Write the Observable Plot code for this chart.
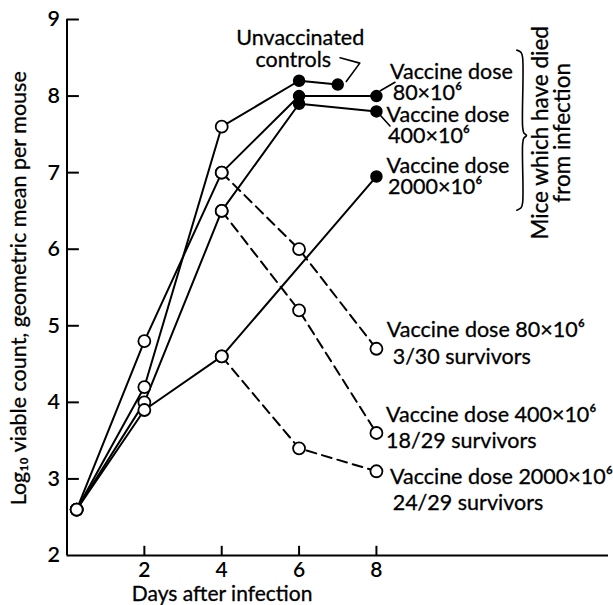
<!DOCTYPE html>
<html><head><meta charset="utf-8">
<script src="https://cdn.jsdelivr.net/npm/d3@7"></script>
<script src="https://cdn.jsdelivr.net/npm/@observablehq/plot@0.6"></script>
<style>body{margin:0;background:#fff}</style>
</head><body><div id="chart"></div>
<script>
// ---- data ----
const controlsDays = [0.25, 2, 4, 6, 7];
const controlsVals = [2.6, 4.2, 7.6, 8.2, 8.15];
const dose80Days = [0.25, 2, 4, 6, 8];
const dose80Vals = [2.6, 4.8, 7.0, 8.0, 8.0];
const dose80SurvDays = [4, 6, 8];
const dose80SurvVals = [7.0, 6.0, 4.7];
const dose400Days = [0.25, 2, 4, 6, 8];
const dose400Vals = [2.6, 4.0, 6.5, 7.9, 7.8];
const dose400SurvDays = [4, 6, 8];
const dose400SurvVals = [6.5, 5.2, 3.6];
const dose2000Days = [0.25, 2, 4, 8];
const dose2000Vals = [2.6, 3.9, 4.6, 6.95];
const dose2000SurvDays = [4, 6, 8];
const dose2000SurvVals = [4.6, 3.4, 3.1];
// which points are filled (died) – by day
const filledControls = [6, 7];
const filled80 = [6, 8];
const filled400 = [6, 8];
const filled2000 = [8];

const xTicks = [2, 4, 6, 8];
const yTicks = [2, 3, 4, 5, 6, 7, 8, 9];
const xTickLabels = ["2", "4", "6", "8"];
const yTickLabels = ["2", "3", "4", "5", "6", "7", "8", "9"];

// ---- build tables ----
const zip = (xs, ys) => xs.map((x, i) => ({x, y: ys[i]}));
const solidSeries = [
  zip(controlsDays, controlsVals),
  zip(dose80Days, dose80Vals),
  zip(dose400Days, dose400Vals),
  zip(dose2000Days, dose2000Vals)
];
const dashedSeries = [
  zip(dose80SurvDays, dose80SurvVals),
  zip(dose400SurvDays, dose400SurvVals),
  zip(dose2000SurvDays, dose2000SurvVals)
];
const filledSets = [filledControls, filled80, filled400, filled2000];
const allPts = [];
solidSeries.forEach((s, k) => s.forEach(p => allPts.push({...p, filled: filledSets[k].includes(p.x) && p.x > 4})));
dashedSeries.forEach(s => s.forEach(p => allPts.push({...p, filled: false})));
const openPts = allPts.filter(p => !p.filled);
const filledPts = allPts.filter(p => p.filled);

// annotation labels (data coordinates)
const centerLabels = [
  {x: 6.03, y: 8.76, t: "Unvaccinated"},
  {x: 5.85, y: 8.47, t: "controls"}
];
const startLabels = [
  {x: 8.35, y: 8.31, t: "Vaccine dose"},
  {x: 8.42, y: 8.04, t: "80×10⁶"},
  {x: 8.26, y: 7.75, t: "Vaccine dose"},
  {x: 8.30, y: 7.48, t: "400×10⁶"},
  {x: 8.26, y: 7.09, t: "Vaccine dose"},
  {x: 8.30, y: 6.81, t: "2000×10⁶"},
  {x: 8.27, y: 4.94, t: "Vaccine dose 80×10⁶"},
  {x: 8.42, y: 4.59, t: "3/30 survivors"},
  {x: 8.25, y: 3.83, t: "Vaccine dose 400×10⁶"},
  {x: 8.25, y: 3.49, t: "18/29 survivors"},
  {x: 8.35, y: 3.03, t: "Vaccine dose 2000×10⁶"},
  {x: 8.42, y: 2.69, t: "24/29 survivors"}
];
const leaders = [
  [{x: 7.06, y: 8.50}, {x: 7.57, y: 8.43}, {x: 7.22, y: 8.19}],
  [{x: 8.10, y: 8.07}, {x: 8.48, y: 8.18}],
  [{x: 8.10, y: 7.75}, {x: 8.35, y: 7.61}]
];
const brace = [
  {x: 11.63, y: 8.60}, {x: 11.74, y: 8.57}, {x: 11.78, y: 8.50},
  {x: 11.78, y: 7.60}, {x: 11.81, y: 7.52}, {x: 11.88, y: 7.485},
  {x: 11.81, y: 7.45}, {x: 11.78, y: 7.37},
  {x: 11.78, y: 6.61}, {x: 11.74, y: 6.54}, {x: 11.63, y: 6.51}
];

const font = "Lato, 'Open Sans', sans-serif";
const fs = 21.5;
const ink = {fill: "#000", stroke: "#000", strokeWidth: 0.3};

const chart = Plot.plot({
  width: 613, height: 605,
  marginLeft: 66.5, marginRight: 5, marginTop: 19, marginBottom: 50,
  x: {domain: [0, 14], axis: null},
  y: {domain: [2, 9], axis: null},
  style: {fontFamily: font, background: "#fff"},
  marks: [
    // axes
    Plot.ruleX([0], {y1: 2, y2: 9, stroke: "#000", strokeWidth: 2}),
    Plot.ruleY([2], {x1: 0, x2: 14, stroke: "#000", strokeWidth: 2}),
    Plot.ruleY(yTicks.slice(1), {x1: 0, x2: 0.32, stroke: "#000", strokeWidth: 2}),
    Plot.ruleX(xTicks, {y1: 2, y2: 2.12, stroke: "#000", strokeWidth: 2}),
    Plot.text(yTicks, {x: 0, y: d => d, text: (d, i) => yTickLabels[i], textAnchor: "end", dx: -7, fontSize: fs, fontWeight: 600, fill: "#000"}),
    Plot.text(xTicks, {x: d => d, y: 2, text: (d, i) => xTickLabels[i], dy: 15, fontSize: 21, fontWeight: 600, fill: "#000"}),
    Plot.text(["Days after infection"], {x: 4.01, y: 1.50, text: d => d, fontSize: 21, ...ink}),
    Plot.text(["Log₁₀ viable count, geometric mean per mouse"], {x: -1.25, y: 5.49, text: d => d, rotate: -90, fontSize: 21.5, ...ink}),
    // data lines
    ...solidSeries.map(s => Plot.line(s, {x: "x", y: "y", stroke: "#000", strokeWidth: 2})),
    ...dashedSeries.map(s => Plot.line(s, {x: "x", y: "y", stroke: "#000", strokeWidth: 2, strokeDasharray: "10,6"})),
    Plot.dot(openPts, {x: "x", y: "y", r: 6, fill: "#fff", stroke: "#000", strokeWidth: 1.8}),
    Plot.dot(filledPts, {x: "x", y: "y", r: 5.5, fill: "#000", stroke: "#000"}),
    // annotations
    ...leaders.map(l => Plot.line(l, {x: "x", y: "y", stroke: "#000", strokeWidth: 1.6})),
    Plot.line(brace, {x: "x", y: "y", stroke: "#000", strokeWidth: 1.6, curve: "catmull-rom"}),
    Plot.text(centerLabels, {x: "x", y: "y", text: "t", textAnchor: "middle", fontSize: fs, ...ink}),
    Plot.text(startLabels, {x: "x", y: "y", text: "t", textAnchor: "start", fontSize: fs, ...ink}),
    Plot.text(["Mice which have died\nfrom infection"], {x: 12.53, y: 7.52, text: d => d, rotate: -90, fontSize: 22.5, lineHeight: 1.0, ...ink})
  ]
});
document.getElementById("chart").appendChild(chart);
</script>
</body></html>
